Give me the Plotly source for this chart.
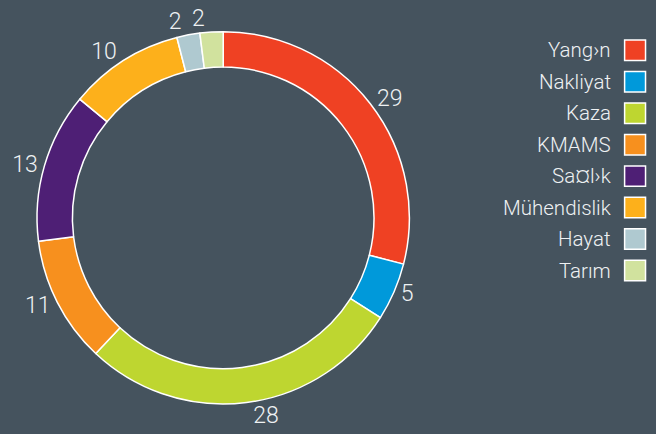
import plotly.graph_objects as go

labels = ["Yang\u203an", "Nakliyat", "Kaza", "KMAMS", "Sa\u00a4l\u203ak", "M\u00fchendislik", "Hayat", "Tar\u0131m"]
values = [29, 5, 28, 11, 13, 10, 2, 2]
colors = ["#EF4123", "#0099DA", "#BED630", "#F7901E", "#4E1F75", "#FDB01B", "#AFC9D0", "#D1E29E"]

W, H = 656, 434
BG = "#45535E"
FONT = "Roboto"
TXT = "#EEF1F3"

cx, halfx = 201, 200
y_lo, y_hi = 0, 400
dom = dict(x=[(cx - halfx) / W, (cx + halfx) / W], y=[y_lo / H, y_hi / H])

# main ring: labels for all slices except the last one
textsA = [str(v) if i < len(values) - 1 else "" for i, v in enumerate(values)]
# overlay (transparent) ring carrying only the last slice's label, so it is not scooted
textsB = [str(v) if i == len(values) - 1 else "" for i, v in enumerate(values)]

common = dict(labels=labels, values=values, sort=False, direction="clockwise", rotation=0,
              hole=0.81, textinfo="text", textposition="outside", domain=dom,
              showlegend=False, hoverinfo="skip",
              outsidetextfont=dict(family=FONT, size=23, color=TXT, weight=300))

fig = go.Figure()
fig.add_trace(go.Pie(text=textsA,
                     marker=dict(colors=colors, line=dict(color="white", width=1.5)),
                     **common))
fig.add_trace(go.Pie(text=textsB,
                     marker=dict(colors=["rgba(0,0,0,0)"] * len(values), line=dict(width=0)),
                     **common))

# custom legend (text left of swatch, right aligned)
top = 54
step = 33.8
sq = 22
sx1 = 623
for i, (lab, col) in enumerate(zip(labels, colors)):
    yc = top + i * step
    fig.add_shape(type="rect", xref="paper", yref="paper",
                  x0=sx1 / W, x1=(sx1 + sq) / W,
                  y0=1 - (yc + sq / 2) / H, y1=1 - (yc - sq / 2) / H,
                  fillcolor=col, line=dict(color="white", width=1.5))
    fig.add_annotation(xref="paper", yref="paper", x=(sx1 - 12) / W, y=1 - yc / H,
                       text=lab, showarrow=False, xanchor="right", yanchor="middle",
                       font=dict(family=FONT, size=20.5, color=TXT, weight=300))

fig.update_layout(
    width=W, height=H, margin=dict(l=0, r=0, t=0, b=0),
    paper_bgcolor=BG, plot_bgcolor=BG,
    font=dict(family=FONT, color=TXT),
)
fig.write_html("out.html", config={"displayModeBar": False},
               post_script="document.body.style.margin='0';document.body.style.background='%s';" % BG)
